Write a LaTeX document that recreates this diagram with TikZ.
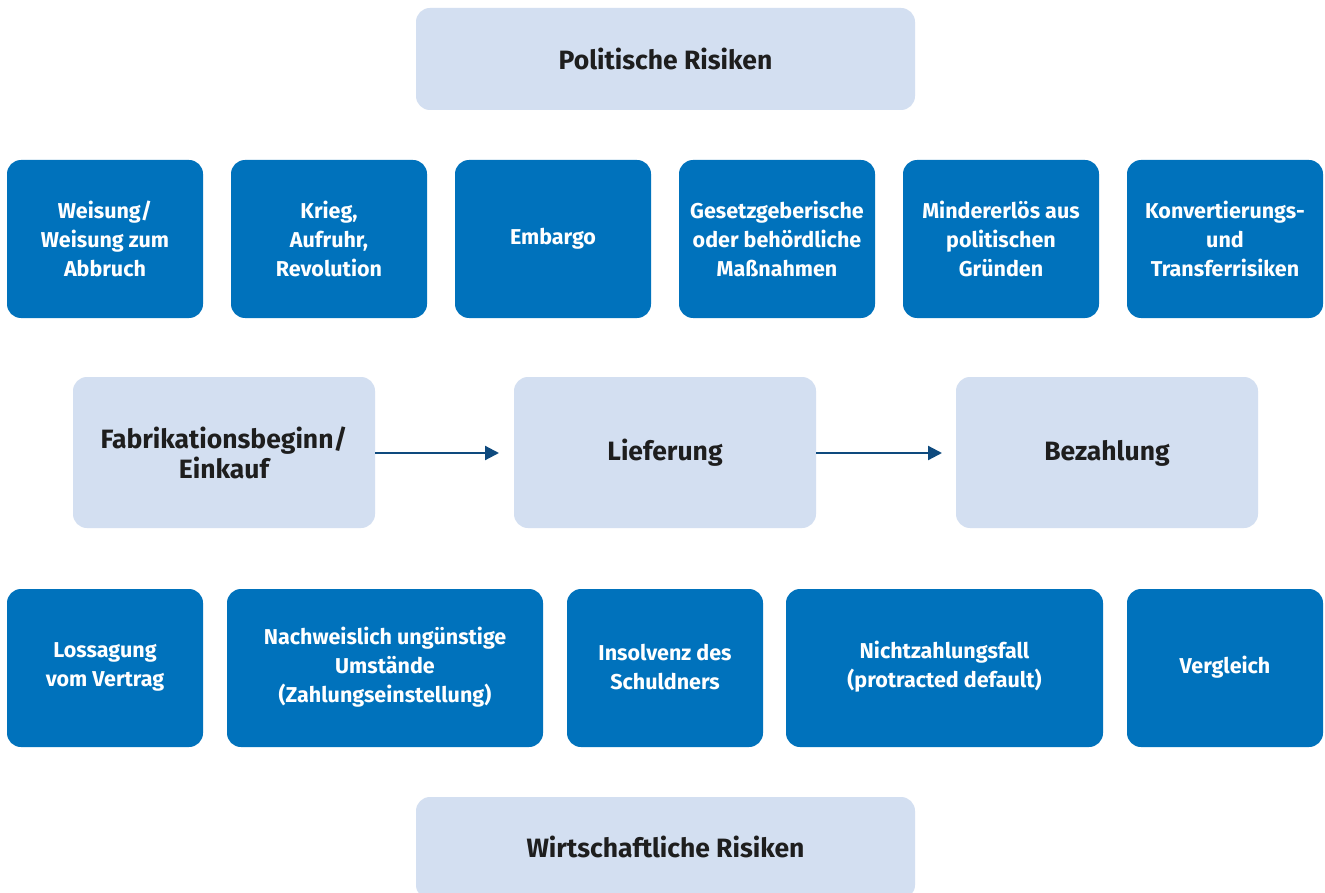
\documentclass[tikz,border=0pt]{standalone}
\usepackage{fontspec}
\setmainfont{Fira Sans}
\usetikzlibrary{arrows.meta}
\definecolor{dblue}{RGB}{0,114,188}
\definecolor{lblue}{RGB}{211,223,241}
\definecolor{arrowblue}{RGB}{14,74,126}
\definecolor{txt}{RGB}{30,30,30}
\tikzset{
  riskbox/.style={fill=dblue, rounded corners=14pt, text=white, align=center,
    font=\fontsize{21.5}{29}\selectfont\bfseries},
  phasebox/.style={fill=lblue, rounded corners=14pt, text=txt, align=center,
    font=\fontsize{26.5}{30}\selectfont\bfseries},
  flow/.style={draw=arrowblue, line width=2.2pt, -{Triangle[length=14pt,width=14pt]}}
}
\begin{document}
\begin{tikzpicture}[x=1pt,y=-1pt]
\clip (0,0) rectangle (1325,893);
\fill[white] (0,0) rectangle (1325,893);
% top / bottom headers
\fill[phasebox] (416,8) rectangle (915,110);
\node[phasebox] (pol) at (665.5,59) {Politische Risiken};
\fill[phasebox] (416,797) rectangle (915,899);
\node[phasebox] (wir) at (665.5,847) {Wirtschaftliche Risiken};
% row 1
\foreach \x/\name/\t in {7/a1/{Weisung/\\Weisung zum\\Abbruch},
  231/a2/{Krieg,\\Aufruhr,\\Revolution},
  455/a3/{Embargo},
  679/a4/{Gesetzgeberische\\oder behördliche\\Maßnahmen},
  903/a5/{Mindererlös aus\\politischen\\Gründen},
  1127/a6/{Konvertierungs-\\und\\Transferrisiken}}{
  \fill[riskbox] (\x,160) rectangle (\x+196,318);
  \node[riskbox] (\name) at (\x+98,239) {\t};
}
% middle
\fill[phasebox] (73,377) rectangle (375,528);
\node[phasebox] (fab) at (224,453) {Fabrikationsbeginn/\\Einkauf};
\fill[phasebox] (514,377) rectangle (816,528);
\node[phasebox] (lie) at (665,453) {Lieferung};
\fill[phasebox] (956,377) rectangle (1258,528);
\node[phasebox] (bez) at (1107,453) {Bezahlung};
\coordinate (f1) at (375,453);
\coordinate (f2) at (499,453);
\coordinate (l1) at (816,453);
\coordinate (l2) at (942,453);
\draw[flow] (f1) -- (f2);
\draw[flow] (l1) -- (l2);
% row 3
\fill[riskbox] (7,589) rectangle (203,747);
\node[riskbox] (b1) at (105,667) {Lossagung\\vom Vertrag};
\fill[riskbox] (227,589) rectangle (543,747);
\node[riskbox] (b2) at (385,667) {Nachweislich ungünstige\\Umstände\\(Zahlungseinstellung)};
\fill[riskbox] (567,589) rectangle (763,747);
\node[riskbox] (b3) at (665,667) {Insolvenz des\\Schuldners};
\fill[riskbox] (786,589) rectangle (1103,747);
\node[riskbox] (b4) at (944.5,667) {Nichtzahlungsfall\\(protracted default)};
\fill[riskbox] (1127,589) rectangle (1323,747);
\node[riskbox] (b5) at (1225,667) {Vergleich};
\end{tikzpicture}
\end{document}
